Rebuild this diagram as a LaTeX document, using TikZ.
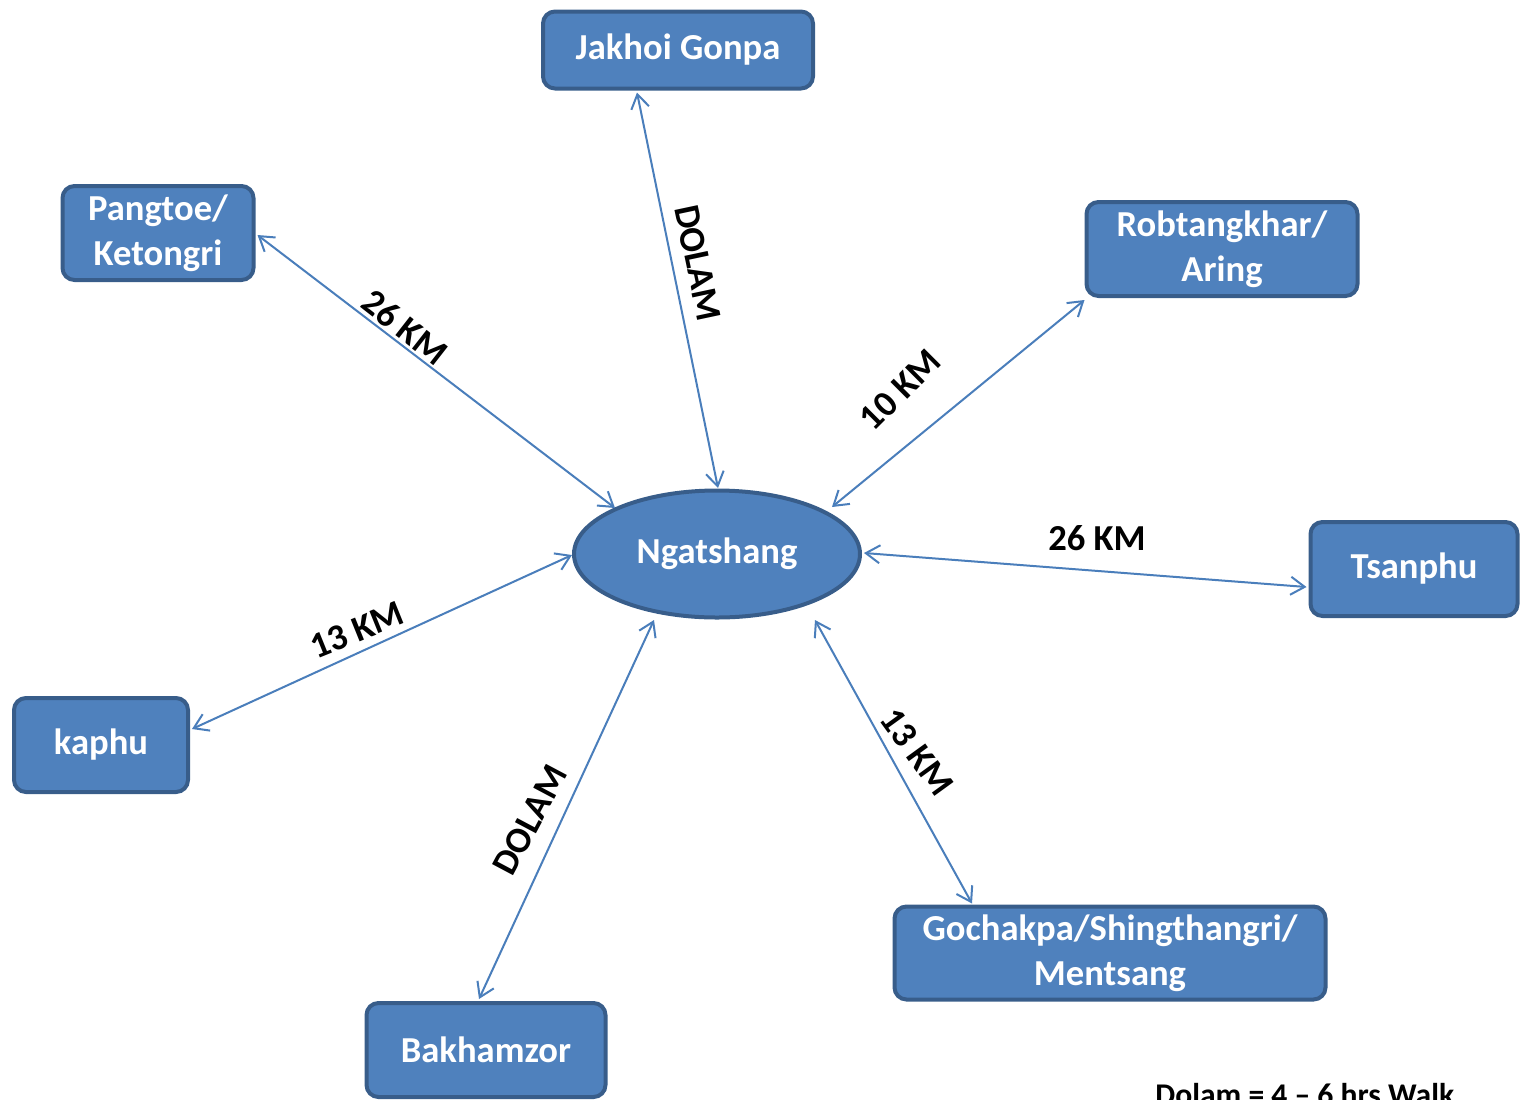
\documentclass[tikz,border=0pt]{standalone}
\usepackage{fontspec}
\setmainfont{Carlito}
\usetikzlibrary{arrows.meta,calc,shapes.geometric}
\definecolor{boxfill}{HTML}{4F81BD}
\definecolor{boxline}{HTML}{385D8A}
\definecolor{arrowc}{HTML}{4A7EBB}
\begin{document}
\begin{tikzpicture}[x=0.5pt,y=-0.5pt,
  place/.style={draw=boxline,fill=boxfill,line width=2pt,rounded corners=6pt,
    text=white,font=\fontsize{18.3}{22.5}\selectfont\bfseries,align=center,inner sep=0pt},
  hub/.style={ellipse,draw=boxline,fill=boxfill,line width=2pt,
    text=white,font=\fontsize{18.3}{22.5}\selectfont\bfseries,inner sep=0pt,
    minimum width=143pt,minimum height=63.5pt},
  link/.style={draw=arrowc,line width=1pt,{Straight Barb[length=7pt,width=9pt]}-{Straight Barb[length=7pt,width=9pt]}},
  dist/.style={font=\fontsize{18.3}{22}\selectfont\bfseries,text=black,inner sep=0pt}]
\useasboundingbox (0,0) rectangle (1522,1099);
% nodes
\node[hub] (ng) at (717,554) {\raisebox{-1.5pt}{Ngatshang}};
\node[place,minimum width=135pt,minimum height=38.5pt] (jak) at (678,50) {\raisebox{-1.5pt}{Jakhoi Gonpa}};
\node[place,minimum width=95.5pt,minimum height=47pt] (pang) at (158,233) {Pangtoe/\\Ketongri};
\node[place,minimum width=135.5pt,minimum height=47pt] (rob) at (1222,249) {Robtangkhar/\\Aring};
\node[place,minimum width=103.5pt,minimum height=47pt] (tsan) at (1414,569) {\raisebox{-1.5pt}{Tsanphu}};
\node[place,minimum width=87pt,minimum height=47pt] (kap) at (101,745) {\raisebox{-1.5pt}{kaphu}};
\node[place,minimum width=215.5pt,minimum height=46.5pt] (goch) at (1110,953) {Gochakpa/Shingthangri/\\Mentsang};
\node[place,minimum width=119.5pt,minimum height=47pt] (bak) at (486,1050) {\raisebox{-1.5pt}{Bakhamzor}};
% connectors
\draw[link] ($(jak.south)+(-41,2)$) -- ($(ng.center)+(1,-66)$);
\draw[link] ($(pang.east)+(2,2)$) -- ($(ng.center)+(-102,-46)$);
\draw[link] ($(rob.south west)+(0,2)$) -- ($(ng.center)+(115,-47)$);
\draw[link] ($(ng.center)+(147,-1)$) -- ($(tsan.west)+(-2,18)$);
\draw[link] ($(kap.east)+(2,-16)$) -- ($(ng.center)+(-145,1)$);
\draw[link] ($(ng.center)+(98,66)$) -- ($(goch.north)+(-138,-1)$);
\draw[link] ($(ng.center)+(-63,66)$) -- ($(bak.north)+(-7,-2)$);
% distance labels
\node[dist,rotate=-78] (l1) at (698,263) {DOLAM};
\node[dist,rotate=-38] (l2) at (405,327) {26 KM};
\node[dist,rotate=45] (l3) at (900,390) {10 KM};
\node[dist] (l4) at (1097,538) {26 KM};
\node[dist,rotate=22] (l5) at (357,630) {13 KM};
\node[dist,rotate=-54] (l6) at (917,752) {13 KM};
\node[dist,rotate=62] (l7) at (530,820) {DOLAM};
\node[font=\fontsize{15.8}{18}\selectfont\bfseries,anchor=base west,inner sep=0pt] (note) at (1155,1105) {Dolam = 4 – 6 hrs Walk};
\end{tikzpicture}
\end{document}
